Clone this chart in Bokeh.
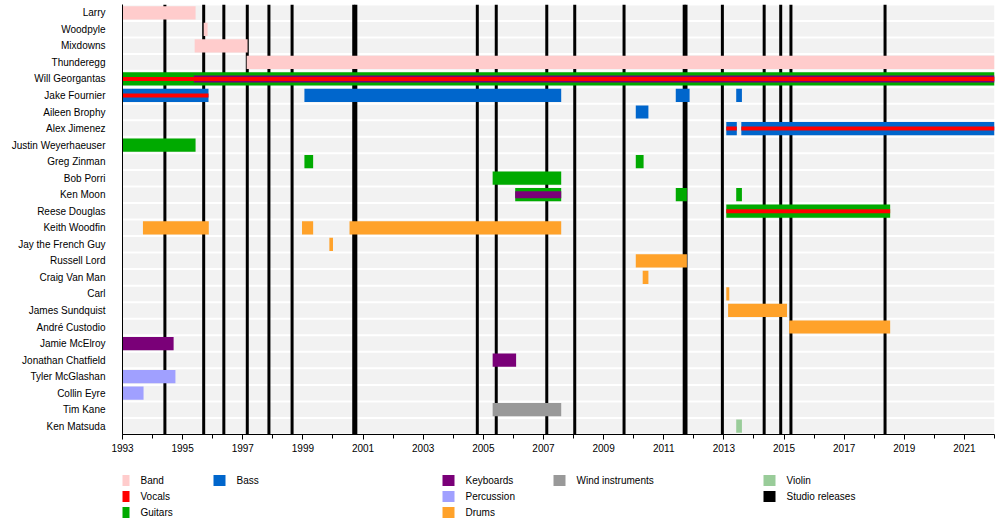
from bokeh.plotting import figure
from bokeh.layouts import column
from bokeh.models import FixedTicker, Range1d
from bokeh.embed import file_html
from bokeh.resources import INLINE
from bokeh.core.properties import value

members = ["Larry", "Woodpyle", "Mixdowns", "Thunderegg", "Will Georgantas",
           "Jake Fournier", "Aileen Brophy", "Alex Jimenez", "Justin Weyerhaeuser",
           "Greg Zinman", "Bob Porri", "Ken Moon", "Reese Douglas", "Keith Woodfin",
           "Jay the French Guy", "Russell Lord", "Craig Van Man", "Carl",
           "James Sundquist", "André Custodio", "Jamie McElroy", "Jonathan Chatfield",
           "Tyler McGlashan", "Collin Eyre", "Tim Kane", "Ken Matsuda"]

start_year = 1993
end_year = 2022.0

role_names = ["Band", "Vocals", "Guitars", "Bass", "Keyboards", "Percussion",
              "Drums", "Wind instruments", "Violin", "Studio releases"]
role_colors = ["#ffcccc", "#ff0000", "#00aa00", "#0066cc", "#7a0078", "#a0a0ff",
               "#ffa22a", "#999999", "#99cc99", "#000000"]
color_of = dict(zip(role_names, role_colors))

# main bars (full height)
bar_member = ["Larry", "Woodpyle", "Mixdowns", "Thunderegg",
              "Will Georgantas",
              "Jake Fournier", "Jake Fournier", "Jake Fournier", "Jake Fournier",
              "Aileen Brophy",
              "Alex Jimenez", "Alex Jimenez",
              "Justin Weyerhaeuser",
              "Greg Zinman", "Greg Zinman",
              "Bob Porri",
              "Ken Moon", "Ken Moon", "Ken Moon",
              "Reese Douglas",
              "Keith Woodfin", "Keith Woodfin", "Keith Woodfin",
              "Jay the French Guy", "Russell Lord", "Craig Van Man", "Carl",
              "James Sundquist", "André Custodio",
              "Jamie McElroy", "Jonathan Chatfield",
              "Tyler McGlashan", "Collin Eyre",
              "Tim Kane", "Ken Matsuda"]
bar_start = [1993.0, 1995.70, 1995.40, 1997.13,
             1993.0,
             1993.0, 1999.05, 2011.40, 2013.41,
             2010.07,
             2013.08, 2013.58,
             1993.0,
             1999.05, 2010.07,
             2005.31,
             2006.06, 2011.40, 2013.41,
             2013.08,
             1993.68, 1998.97, 2000.55,
             1999.88, 2010.07, 2010.30, 2013.08,
             2013.14, 2015.17,
             1993.0, 2005.31,
             1993.0, 1993.0,
             2005.31, 2013.41]
bar_end = [1995.43, 1995.83, 1997.16, 2022.0,
           2022.0,
           1995.86, 2007.59, 2011.86, 2013.60,
           2010.49,
           2013.43, 2022.0,
           1995.43,
           1999.34, 2010.33,
           2007.59,
           2007.59, 2011.77, 2013.60,
           2018.53,
           1995.87, 1999.34, 2007.59,
           2000.00, 2011.77, 2010.49, 2013.18,
           2015.10, 2018.53,
           1994.70, 2006.09,
           1994.76, 1993.70,
           2007.59, 2013.60]
bar_role = ["Band", "Band", "Band", "Band",
            "Guitars",
            "Bass", "Bass", "Bass", "Bass",
            "Bass",
            "Bass", "Bass",
            "Guitars",
            "Guitars", "Guitars",
            "Guitars",
            "Guitars", "Guitars", "Guitars",
            "Guitars",
            "Drums", "Drums", "Drums",
            "Drums", "Drums", "Drums", "Drums",
            "Drums", "Drums",
            "Keyboards", "Keyboards",
            "Percussion", "Percussion",
            "Wind instruments", "Violin"]

# keyboards stripe inside other bars
keys_member = ["Will Georgantas", "Ken Moon"]
keys_start = [1995.37, 2006.06]
keys_end = [2022.0, 2007.59]

# vocals stripe
voc_member = ["Will Georgantas", "Jake Fournier", "Alex Jimenez", "Alex Jimenez", "Reese Douglas"]
voc_start = [1993.0, 1993.0, 2013.08, 2013.58, 2013.08]
voc_end = [2022.0, 1995.86, 2013.43, 2022.0, 2018.53]

releases = [1994.41, 1995.70, 1996.37, 1997.15, 1997.87, 1998.64, 2000.69, 2000.76,
            2004.80, 2005.43, 2007.11, 2008.04, 2009.68, 2011.68, 2011.74, 2012.95,
            2014.34, 2014.89, 2015.23, 2018.36]

n = len(members)


def row(name):
    return n - 1 - members.index(name)


FONT = "Liberation Sans"

p = figure(width=996, height=464, output_backend="svg", toolbar_location=None,
           x_range=Range1d(start_year, end_year), y_range=Range1d(-0.5, n - 0.5),
           min_border_left=122, min_border_right=2, min_border_top=4, min_border_bottom=30)
p.outline_line_color = None
p.xgrid.visible = False
p.ygrid.visible = False

# row backgrounds
p.hbar(y=list(range(n)), left=start_year, right=end_year, height=0.88,
       fill_color="#f2f2f2", line_color=None)

# studio releases
p.segment(x0=releases, x1=releases, y0=-0.5, y1=n - 0.5,
          line_color="black", line_width=3)

p.hbar(y=[row(m) for m in bar_member], left=bar_start, right=bar_end, height=0.8,
       fill_color=[color_of[r] for r in bar_role], line_color=None)
p.hbar(y=[row(m) for m in keys_member], left=keys_start, right=keys_end, height=0.42,
       fill_color=color_of["Keyboards"], line_color=None)
p.hbar(y=[row(m) for m in voc_member], left=voc_start, right=voc_end, height=0.24,
       fill_color=color_of["Vocals"], line_color=None)

p.xaxis.ticker = FixedTicker(ticks=list(range(1993, 2022, 2)),
                             minor_ticks=list(range(1993, 2023)))
p.xaxis.major_tick_in = 0
p.xaxis.minor_tick_in = 0
p.xaxis.major_tick_out = 5
p.xaxis.minor_tick_out = 4
p.xaxis.major_label_standoff = 4
p.xaxis.axis_line_color = "black"
p.xaxis.major_tick_line_color = "black"
p.xaxis.minor_tick_line_color = "black"

p.yaxis.ticker = FixedTicker(ticks=list(range(n)))
p.yaxis.major_label_overrides = {i: members[n - 1 - i] for i in range(n)}
p.yaxis.major_tick_line_color = None
p.yaxis.minor_tick_line_color = None
p.yaxis.major_label_standoff = 11
p.yaxis.axis_line_color = "black"

for ax in (p.xaxis[0], p.yaxis[0]):
    ax.major_label_text_font = FONT
    ax.major_label_text_font_size = "10px"
    ax.major_label_text_color = "black"

# legend below; its frame lines up with the chart frame, so x is in page pixels
leg_x = [117, 213, 442, 553, 763, 117, 442, 763, 117, 442]
leg_y = [16, 16, 16, 16, 16, 32, 32, 32, 48, 48]
leg_order = ["Band", "Bass", "Keyboards", "Wind instruments", "Violin",
             "Vocals", "Percussion", "Studio releases", "Guitars", "Drums"]

lg = figure(width=996, height=58, output_backend="svg", toolbar_location=None,
            x_range=Range1d(122, 994), y_range=Range1d(58, 0),
            min_border_left=122, min_border_right=2, min_border_top=0, min_border_bottom=0)
lg.axis.visible = False
lg.grid.visible = False
lg.outline_line_color = None
lg.quad(left=leg_x, right=[x + 12 for x in leg_x],
        top=[y - 5.5 for y in leg_y], bottom=[y + 5.5 for y in leg_y],
        fill_color=[color_of[r] for r in leg_order], line_color=None)
lg.text(x=[x + 23 for x in leg_x], y=leg_y, text=leg_order,
        text_font=value(FONT), text_font_size="10px", text_baseline="middle",
        text_color="black")

layout = column(p, lg, spacing=0)
open("out.html", "w").write(file_html(layout, INLINE))
